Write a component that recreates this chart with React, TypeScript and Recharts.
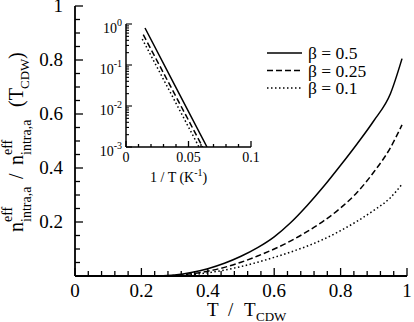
import { Line, LineChart, XAxis, YAxis } from "recharts";

// Main panel: n_eff(T) / n_eff(T_CDW) against T / T_CDW for three beta values.
const T_B050 = [0.25, 0.3, 0.35, 0.4, 0.45, 0.5, 0.55, 0.6, 0.65, 0.7, 0.75, 0.8, 0.85, 0.9, 0.95, 0.985];
const N_B050 = [0, 0.004, 0.013, 0.027, 0.047, 0.073, 0.105, 0.145, 0.198, 0.262, 0.333, 0.41, 0.49, 0.575, 0.675, 0.805];

const T_B025 = [0.28, 0.35, 0.4, 0.45, 0.5, 0.55, 0.6, 0.65, 0.7, 0.75, 0.8, 0.85, 0.9, 0.95, 0.985];
const N_B025 = [0, 0.008, 0.018, 0.032, 0.051, 0.074, 0.1, 0.13, 0.165, 0.205, 0.252, 0.31, 0.385, 0.475, 0.56];

const T_B010 = [0.3, 0.35, 0.4, 0.45, 0.5, 0.55, 0.6, 0.65, 0.7, 0.75, 0.8, 0.85, 0.9, 0.95, 0.985];
const N_B010 = [0, 0.005, 0.012, 0.022, 0.035, 0.051, 0.069, 0.089, 0.111, 0.137, 0.168, 0.203, 0.243, 0.29, 0.34];

// Inset: same quantity on a log scale against 1/T (K^-1).
const INV_T_B050 = [0.0152, 0.04, 0.0648];
const LOG_N_B050 = [0.8, 0.028, 0.001];
const INV_T_B025 = [0.0138, 0.0613];
const LOG_N_B025 = [0.55, 0.001];
const INV_T_B010 = [0.013, 0.0584];
const LOG_N_B010 = [0.43, 0.001];

const SERIES_LABELS = ["β = 0.5", "β = 0.25", "β = 0.1"];
const SERIES_DASH = ["", "6 3", "1.5 2.5"];

const X_TICKS = Array.from({ length: 26 }, (_, i) => +(i * 0.04).toFixed(2));
const Y_TICKS = Array.from({ length: 21 }, (_, i) => +(i * 0.05).toFixed(2));
const MIRROR_TICKS = Array.from({ length: 11 }, (_, i) => +(i * 0.1).toFixed(1));

const INSET_X_TICKS = Array.from({ length: 11 }, (_, i) => +(i * 0.01).toFixed(2));
const INSET_DECADES = [0.001, 0.01, 0.1, 1];
const INSET_Y_TICKS = [
  ...[0.001, 0.01, 0.1].flatMap((d) => [1, 2, 3, 4, 5, 6, 7, 8, 9].map((m) => +(m * d).toPrecision(3))),
  1,
];

const zip = (xs: number[], ys: number[]) => xs.map((x, i) => ({ x, y: ys[i] }));

const FONT = "Liberation Serif, DejaVu Serif, serif";
const INK = "#000";

const isMultiple = (v: number, step: number) =>
  Math.abs(v / step - Math.round(v / step)) < 1e-6;

const isDecade = (v: number) => INSET_DECADES.some((d) => Math.abs(d - v) < 1e-9);

const fmt = (v: number) => (v === 0 ? "0" : v === 1 ? "1" : String(v));

type TickProps = { x: number; y: number; payload: { value: number } };

// Ticks point into the frame, xmgrace style. Labels only on the main sides.
function bottomTick(major: (v: number) => boolean, label: (v: number) => string, big: number, small: number, dy: number, size: number) {
  return (p: TickProps) => {
    const v = p.payload.value;
    const m = major(v);
    return (
      <g>
        <line x1={p.x} y1={p.y} x2={p.x} y2={p.y - (m ? big : small)} stroke={INK} strokeWidth={1.3} />
        {m && (
          <text x={p.x} y={p.y + dy} textAnchor="middle" style={{ fontFamily: FONT }} fontSize={size} fill={INK}>
            {label(v)}
          </text>
        )}
      </g>
    );
  };
}

function topTick(major: (v: number) => boolean, big: number, small: number) {
  return (p: TickProps) => {
    const m = major(p.payload.value);
    return <line x1={p.x} y1={p.y} x2={p.x} y2={p.y + (m ? big : small)} stroke={INK} strokeWidth={1.3} />;
  };
}

function rightTick(major: (v: number) => boolean, big: number, small: number) {
  return (p: TickProps) => {
    const m = major(p.payload.value);
    return <line x1={p.x} y1={p.y} x2={p.x - (m ? big : small)} y2={p.y} stroke={INK} strokeWidth={1.3} />;
  };
}

function MainLeftTick(p: TickProps) {
  const v = p.payload.value;
  const m = isMultiple(v, 0.2);
  return (
    <g>
      <line x1={p.x} y1={p.y} x2={p.x + (m ? 8 : 5)} y2={p.y} stroke={INK} strokeWidth={1.3} />
      {m && v > 0 && (
        <text x={p.x - 12} y={p.y + 6} textAnchor="end" style={{ fontFamily: FONT }} fontSize={19} fill={INK}>
          {fmt(v)}
        </text>
      )}
    </g>
  );
}

function InsetLeftTick(p: TickProps) {
  const v = p.payload.value;
  const m = isDecade(v);
  const exp = Math.round(Math.log10(v));
  return (
    <g>
      <line x1={p.x} y1={p.y} x2={p.x + (m ? 6 : 3)} y2={p.y} stroke={INK} strokeWidth={1.1} />
      {m && (
        <text x={p.x - 4} y={p.y + 9} textAnchor="end" style={{ fontFamily: FONT }} fontSize={14} fill={INK}>
          10
          <tspan fontSize={10} dy={-7}>
            {exp === 0 ? "0" : `-${Math.abs(exp)}`}
          </tspan>
        </text>
      )}
    </g>
  );
}

function MainChart() {
  const series = [zip(T_B050, N_B050), zip(T_B025, N_B025), zip(T_B010, N_B010)];
  return (
    <LineChart width={414} height={322} margin={{ top: 6, right: 7, bottom: 16, left: 15 }}>
      <XAxis
        xAxisId="b"
        type="number"
        dataKey="x"
        domain={[0, 1]}
        ticks={X_TICKS}
        interval={0}
        height={30}
        tickSize={0}
        tickMargin={0}
        tickLine={false}
        axisLine={{ stroke: INK, strokeWidth: 1.8 }}
        tick={bottomTick((v) => isMultiple(v, 0.2), fmt, 8, 5, 21, 19)}
      />
      <XAxis
        xAxisId="t"
        orientation="top"
        type="number"
        domain={[0, 1]}
        ticks={MIRROR_TICKS}
        interval={0}
        height={0}
        tickSize={0}
        tickMargin={0}
        tickLine={false}
        axisLine={{ stroke: INK, strokeWidth: 1.8 }}
        tick={topTick((v) => isMultiple(v, 0.2), 7, 7)}
      />
      <YAxis
        yAxisId="l"
        type="number"
        domain={[0, 1]}
        ticks={Y_TICKS}
        interval={0}
        width={60}
        tickSize={0}
        tickMargin={0}
        tickLine={false}
        axisLine={{ stroke: INK, strokeWidth: 1.8 }}
        tick={MainLeftTick}
      />
      <YAxis
        yAxisId="r"
        orientation="right"
        type="number"
        domain={[0, 1]}
        ticks={MIRROR_TICKS}
        interval={0}
        width={0}
        tickSize={0}
        tickMargin={0}
        tickLine={false}
        axisLine={{ stroke: INK, strokeWidth: 1.8 }}
        tick={rightTick((v) => isMultiple(v, 0.2), 7, 7)}
      />
      {series.map((data, i) => (
        <Line
          key={SERIES_LABELS[i]}
          xAxisId="b"
          yAxisId="l"
          data={data}
          dataKey="y"
          type="monotone"
          stroke={INK}
          strokeWidth={1.5}
          strokeDasharray={SERIES_DASH[i] || undefined}
          dot={false}
          isAnimationActive={false}
        />
      ))}
    </LineChart>
  );
}

function InsetChart() {
  const series = [zip(INV_T_B050, LOG_N_B050), zip(INV_T_B025, LOG_N_B025), zip(INV_T_B010, LOG_N_B010)];
  return (
    <LineChart width={165} height={175} margin={{ top: 10, right: 9, bottom: 12, left: 1 }}>
      <XAxis
        xAxisId="b"
        type="number"
        dataKey="x"
        domain={[0, 0.1]}
        ticks={INSET_X_TICKS}
        interval={0}
        height={30}
        tickSize={0}
        tickMargin={0}
        tickLine={false}
        axisLine={{ stroke: INK, strokeWidth: 1.5 }}
        tick={bottomTick((v) => isMultiple(v, 0.05), (v) => (v === 0 ? "0" : v === 0.1 ? "0.1" : String(v)), 6, 3, 15, 14)}
      />
      <XAxis
        xAxisId="t"
        orientation="top"
        type="number"
        domain={[0, 0.1]}
        ticks={INSET_X_TICKS}
        interval={0}
        height={0}
        tickSize={0}
        tickMargin={0}
        tickLine={false}
        axisLine={{ stroke: INK, strokeWidth: 1.5 }}
        tick={topTick((v) => isMultiple(v, 0.05), 6, 3)}
      />
      <YAxis
        yAxisId="l"
        type="number"
        scale="log"
        domain={[0.001, 1]}
        allowDataOverflow
        ticks={INSET_Y_TICKS}
        interval={0}
        width={30}
        tickSize={0}
        tickMargin={0}
        tickLine={false}
        axisLine={{ stroke: INK, strokeWidth: 1.5 }}
        tick={InsetLeftTick}
      />
      <YAxis
        yAxisId="r"
        orientation="right"
        type="number"
        scale="log"
        domain={[0.001, 1]}
        allowDataOverflow
        ticks={INSET_Y_TICKS}
        interval={0}
        width={0}
        tickSize={0}
        tickMargin={0}
        tickLine={false}
        axisLine={{ stroke: INK, strokeWidth: 1.5 }}
        tick={rightTick(isDecade, 6, 3)}
      />
      {series.map((data, i) => (
        <Line
          key={SERIES_LABELS[i]}
          xAxisId="b"
          yAxisId="l"
          data={data}
          dataKey="y"
          type="linear"
          stroke={INK}
          strokeWidth={1.5}
          strokeDasharray={SERIES_DASH[i] || undefined}
          dot={false}
          isAnimationActive={false}
        />
      ))}
    </LineChart>
  );
}

// Axis titles (stacked super/subscripts) and the legend, drawn over the charts.
function Titles() {
  return (
    <svg width={414} height={322} style={{ position: "absolute", left: 0, top: 0, pointerEvents: "none", fontFamily: FONT }}>
      <g fill={INK}>
        <g transform="translate(23,232) rotate(-90)">
          <text x={0} y={0} fontSize={20}>n</text>
          <text x={10} y={-11} fontSize={14}>eff</text>
          <text x={10} y={8} fontSize={14}>intra,a</text>
          <text x={53} y={0} fontSize={20}>/</text>
          <text x={67} y={0} fontSize={20}>n</text>
          <text x={77} y={-11} fontSize={14}>eff</text>
          <text x={77} y={8} fontSize={14}>intra,a</text>
          <text x={125} y={0} fontSize={20}>(T</text>
          <text x={143} y={6} fontSize={13}>CDW</text>
          <text x={173} y={0} fontSize={20}>)</text>
        </g>
        <text x={207} y={316} fontSize={19}>T</text>
        <text x={228} y={316} fontSize={19}>/</text>
        <text x={244} y={316} fontSize={19}>T</text>
        <text x={256} y={321} fontSize={13}>CDW</text>
        <text x={150} y={182} fontSize={14}>
          1 / T (K<tspan fontSize={10} dy={-6}>-1</tspan>
          <tspan dy={6}>)</tspan>
        </text>
        {SERIES_LABELS.map((label, i) => (
          <g key={label}>
            <line x1={267} x2={302} y1={53 + i * 17.5} y2={53 + i * 17.5} stroke={INK} strokeWidth={1.5} strokeDasharray={SERIES_DASH[i] || undefined} />
            <text x={308} y={59 + i * 17.5} fontSize={17.5}>
              {label}
            </text>
          </g>
        ))}
      </g>
    </svg>
  );
}

export default function App() {
  return (
    <div style={{ position: "absolute", left: 0, top: 0, width: 414, height: 322, background: "#fff" }}>
      <MainChart />
      <div style={{ position: "absolute", left: 95, top: 14 }}>
        <InsetChart />
      </div>
      <Titles />
    </div>
  );
}
